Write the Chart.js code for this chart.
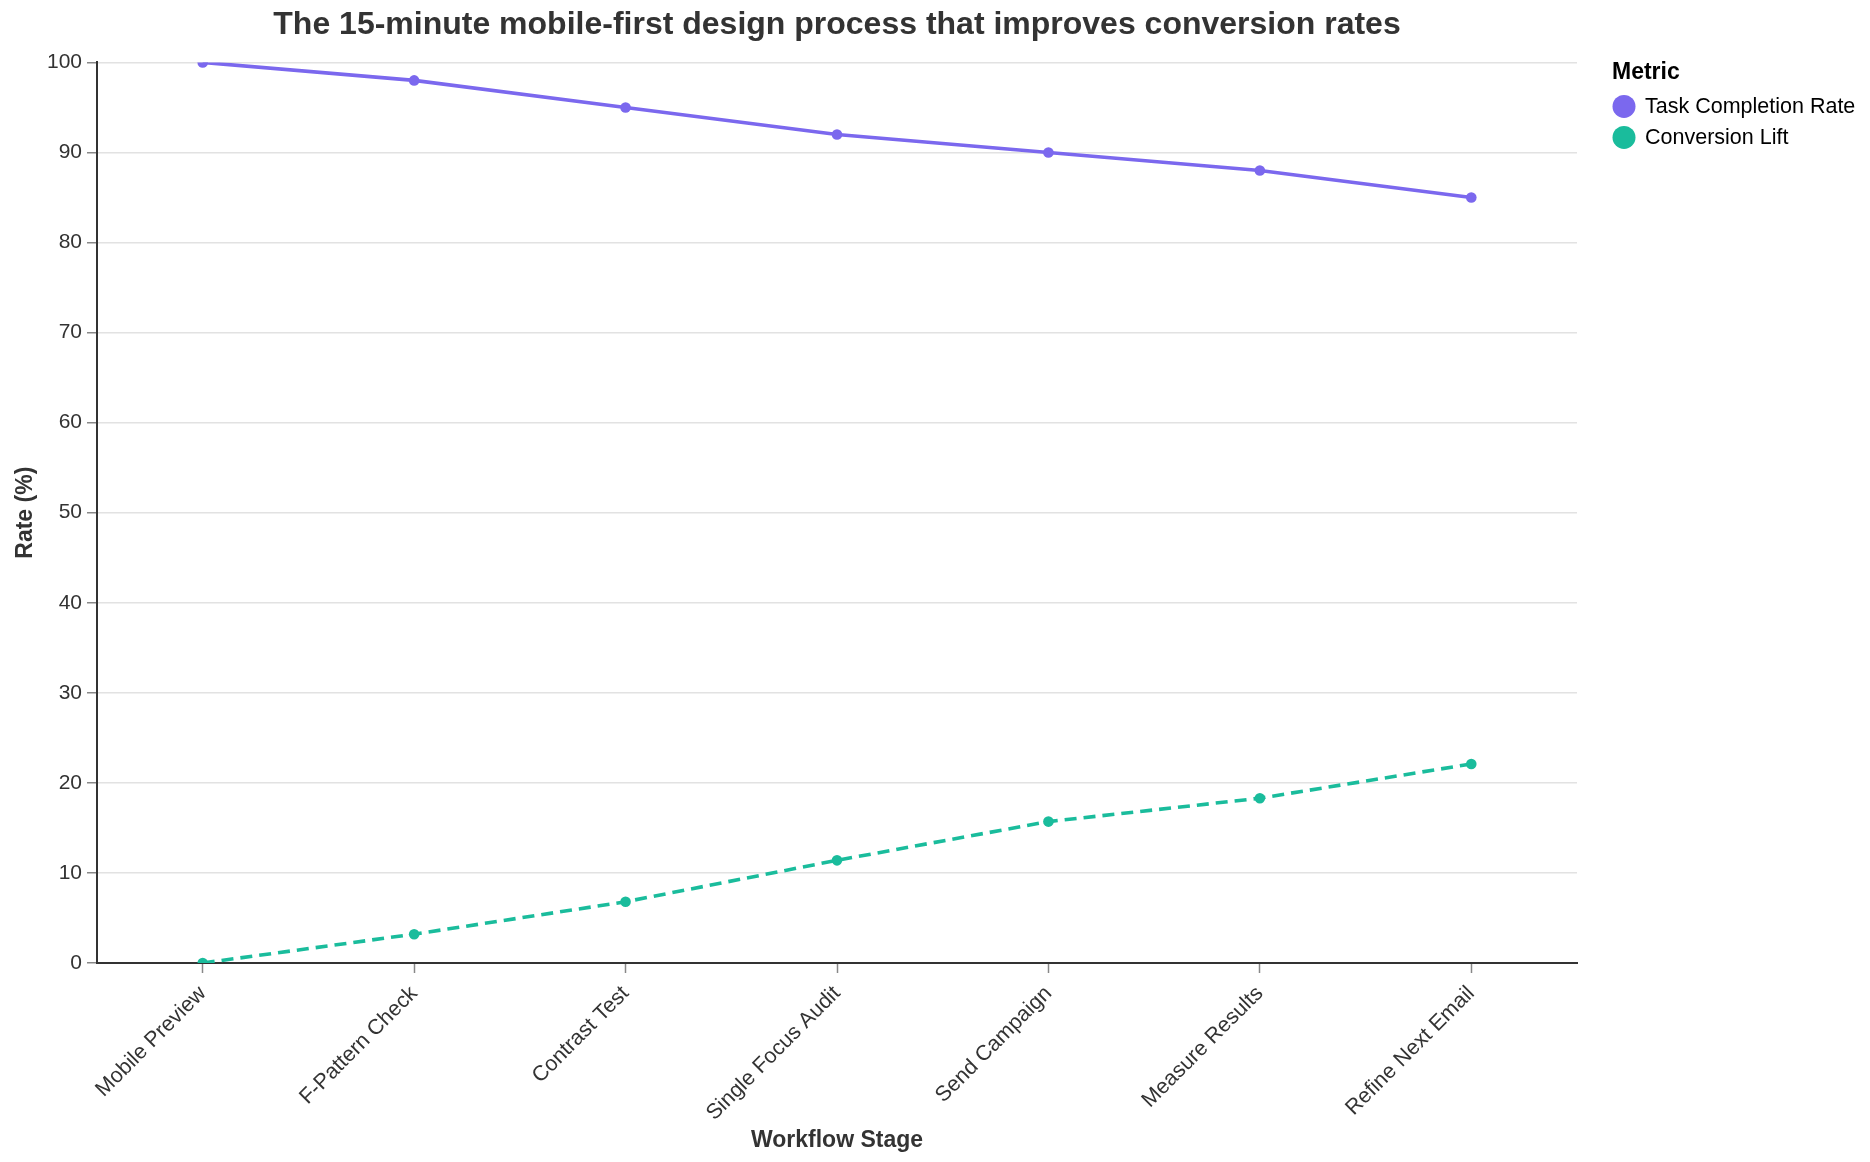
<!DOCTYPE html>
<html>
<head>
<meta charset="utf-8">
<script src="https://cdn.jsdelivr.net/npm/chart.js@4/dist/chart.umd.min.js"></script>
<style>
  html, body { margin: 0; padding: 0; background: #fff; }
  #wrap { width: 1870px; height: 1162px; }
</style>
</head>
<body>
<div id="wrap"><canvas id="chart"></canvas></div>
<script>
const stages = ["Mobile Preview", "F-Pattern Check", "Contrast Test", "Single Focus Audit", "Send Campaign", "Measure Results", "Refine Next Email"];
const taskCompletion = [100, 98, 95, 92, 90, 88, 85];
const conversionLift = [0, 3.2, 6.8, 11.4, 15.7, 18.3, 22.1];
const yTicks = [0, 10, 20, 30, 40, 50, 60, 70, 80, 90, 100];

const purple = "#7b68ee";
const green = "#1abc9c";
const fontFamily = "'Liberation Sans', Arial, sans-serif";

// legend drawn to the right of the plot, like the Vega-style "Metric" block
const metricLegend = {
    id: "metricLegend",
    afterDraw(chart) {
        const ctx = chart.ctx;
        const area = chart.chartArea;
        const x0 = area.right + 35;
        ctx.save();
        ctx.textBaseline = "middle";
        ctx.textAlign = "left";
        ctx.fillStyle = "#000";
        ctx.font = "bold 23px " + fontFamily;
        ctx.fillText("Metric", x0, area.top + 10);
        ctx.font = "21.5px " + fontFamily;
        chart.data.datasets.forEach((ds, i) => {
            const cy = area.top + 44 + i * 31;
            ctx.fillStyle = ds.borderColor;
            ctx.beginPath();
            ctx.arc(x0 + 12, cy, 11.5, 0, Math.PI * 2);
            ctx.fill();
            ctx.fillStyle = "#000";
            ctx.fillText(ds.label, x0 + 33, cy + 1);
        });
        ctx.restore();
    }
};

document.addEventListener("DOMContentLoaded", function() {
    const ctx = document.getElementById("chart").getContext("2d");

    new Chart(ctx, {
        type: "line",
        data: {
            labels: stages,
            datasets: [
                {
                    label: "Task Completion Rate",
                    data: taskCompletion,
                    borderColor: purple,
                    backgroundColor: purple,
                    borderWidth: 3.6,
                    pointRadius: 5.3,
                    pointHoverRadius: 5.3,
                    pointBorderWidth: 0,
                    tension: 0
                },
                {
                    label: "Conversion Lift",
                    data: conversionLift,
                    borderColor: green,
                    backgroundColor: green,
                    borderWidth: 3.6,
                    borderDash: [12, 7],
                    pointRadius: 5.3,
                    pointHoverRadius: 5.3,
                    pointBorderWidth: 0,
                    tension: 0
                }
            ]
        },
        plugins: [metricLegend],
        options: {
            responsive: true,
            maintainAspectRatio: false,
            animation: false,
            layout: { padding: { top: 0, left: 0, right: 293, bottom: 0 } },
            plugins: {
                title: {
                    display: true,
                    text: "The 15-minute mobile-first design process that improves conversion rates",
                    fullSize: false,
                    color: "#333",
                    font: { family: fontFamily, size: 32, weight: "bold" },
                    padding: { top: 6, bottom: 18 }
                },
                legend: { display: false },
                tooltip: { enabled: false }
            },
            scales: {
                x: {
                    offset: true,
                    afterFit: function(axis) { axis.height = 199; },
                    grid: {
                        display: true,
                        drawOnChartArea: false,
                        drawTicks: true,
                        tickLength: 10,
                        tickColor: "#888",
                        tickWidth: 1.5
                    },
                    border: { display: true, color: "#333", width: 2 },
                    ticks: {
                        color: "#333",
                        font: { family: fontFamily, size: 21.5 },
                        minRotation: 45,
                        maxRotation: 45,
                        autoSkip: false,
                        padding: 8
                    },
                    title: {
                        display: true,
                        text: "Workflow Stage",
                        color: "#333",
                        font: { family: fontFamily, size: 23, weight: "bold" },
                        padding: { top: 4, bottom: 8 }
                    }
                },
                y: {
                    min: 0,
                    max: 100,
                    afterFit: function(axis) { axis.width = 97; },
                    afterBuildTicks: function(axis) {
                        axis.ticks = yTicks.map(v => ({ value: v }));
                    },
                    grid: {
                        color: "#e2e2e2",
                        lineWidth: 1.5,
                        drawTicks: true,
                        tickLength: 10,
                        tickColor: "#888",
                        tickWidth: 1.5
                    },
                    border: { display: true, color: "#333", width: 2 },
                    ticks: {
                        color: "#333",
                        font: { family: fontFamily, size: 21 },
                        padding: 5
                    },
                    title: {
                        display: true,
                        text: "Rate (%)",
                        color: "#333",
                        font: { family: fontFamily, size: 23, weight: "bold" },
                        padding: { top: 12, bottom: 0 }
                    }
                }
            }
        }
    });
});
</script>
</body>
</html>
